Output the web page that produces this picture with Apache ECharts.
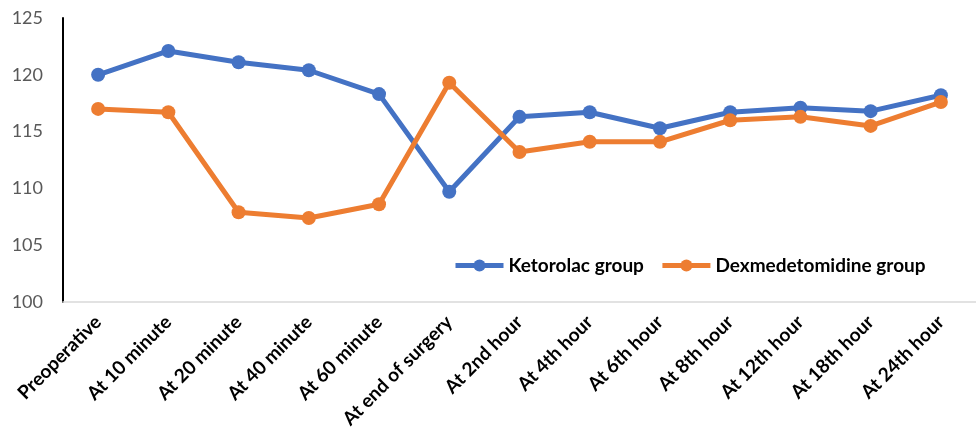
<!DOCTYPE html>
<html>
<head>
<meta charset="utf-8">
<script src="https://cdn.jsdelivr.net/npm/echarts@6/dist/echarts.min.js"></script>
<style>
  html, body { margin: 0; padding: 0; background: #ffffff; }
  #chart { width: 976px; height: 443px; }
</style>
</head>
<body>
<div id="chart"></div>
<script>
// Time points of measurement
const categories = [
  'Preoperative', 'At 10 minute', 'At 20 minute', 'At 40 minute', 'At 60 minute',
  'At end of surgery', 'At 2nd hour', 'At 4th hour', 'At 6th hour', 'At 8th hour',
  'At 12th hour', 'At 18th hour', 'At 24th hour'
];

// Mean values per group
const ketorolac = [120.0, 122.1, 121.1, 120.4, 118.3, 109.7, 116.3, 116.7, 115.3, 116.7, 117.1, 116.8, 118.2];
const dexmedetomidine = [117.0, 116.7, 107.9, 107.4, 108.6, 119.3, 113.2, 114.1, 114.1, 116.0, 116.3, 115.5, 117.6];

const seriesNames = ['Ketorolac group', 'Dexmedetomidine group'];

// Y axis range
const yMin = 100;
const yMax = 125;
const yStep = 5;

const chart = echarts.init(document.getElementById('chart'));

const lineSeries = (name, data, color) => ({
  name: name,
  type: 'line',
  data: data,
  symbol: 'circle',
  symbolSize: 14,
  lineStyle: { width: 5, color: color },
  itemStyle: { color: color },
  emphasis: { disabled: true },
  animation: false
});

chart.setOption({
  backgroundColor: '#ffffff',
  textStyle: { fontFamily: 'Lato' },
  grid: { left: 63, right: -11, top: 18, bottom: 141 },
  legend: {
    left: 448,
    top: 251,
    itemWidth: 48,
    itemHeight: 15,
    itemGap: 16,
    lineStyle: { width: 5 },
    textStyle: { fontFamily: 'Lato', fontWeight: 'bold', fontSize: 19, color: '#000000' },
    data: seriesNames
  },
  xAxis: {
    type: 'category',
    data: categories,
    boundaryGap: true,
    axisLine: { lineStyle: { color: '#d9d9d9', width: 1.5 } },
    axisTick: { show: false },
    axisLabel: {
      rotate: 45,
      interval: 0,
      margin: 17,
      fontFamily: 'Lato',
      fontWeight: 'bold',
      fontSize: 19,
      color: '#000000'
    }
  },
  yAxis: {
    type: 'value',
    min: yMin,
    max: yMax,
    interval: yStep,
    axisLine: { show: true, lineStyle: { color: '#000000', width: 2 } },
    axisTick: { show: false },
    splitLine: { show: false },
    axisLabel: {
      margin: 20,
      fontFamily: 'Lato',
      fontSize: 18,
      color: '#595959'
    }
  },
  series: [
    lineSeries(seriesNames[0], ketorolac, '#4472C4'),
    lineSeries(seriesNames[1], dexmedetomidine, '#ED7D31')
  ]
});
</script>
</body>
</html>
